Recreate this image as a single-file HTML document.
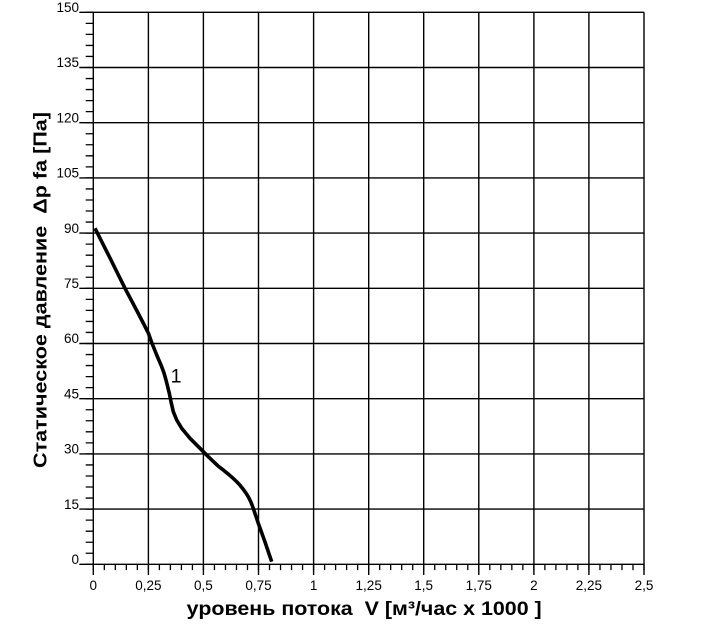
<!DOCTYPE html>
<html><head><meta charset="utf-8"><style>
html,body{margin:0;padding:0;background:#fff;width:704px;height:630px;overflow:hidden}
svg{display:block}
text{font-family:"Liberation Sans", Arial, sans-serif;}
</style></head><body>
<svg width="704" height="630" viewBox="0 0 704 630" xmlns="http://www.w3.org/2000/svg">
<rect width="704" height="630" fill="#fff"/>
<g stroke="#000" stroke-width="1.4" fill="none">
<path d="M79.3 564.3H644 M79.3 509.1H644 M79.3 453.9H644 M79.3 398.7H644 M79.3 343.5H644 M79.3 288.3H644 M79.3 233.1H644 M79.3 177.9H644 M79.3 122.7H644 M79.3 67.5H644 M79.3 12.3H644"/>
<path d="M93.3 12.3V575 M148.4 12.3V575 M203.4 12.3V575 M258.5 12.3V575 M313.6 12.3V575 M368.7 12.3V575 M423.7 12.3V575 M478.8 12.3V575 M533.9 12.3V575 M588.9 12.3V575 M644 12.3V575"/>
</g>
<line x1="92.65" y1="567.2" x2="645" y2="567.2" stroke="#000" stroke-width="5.8" stroke-dasharray="1.3 9.714"/>
<line x1="89.5" y1="11.65" x2="89.5" y2="565" stroke="#000" stroke-width="7.6" stroke-dasharray="1.3 9.74"/>
<g font-size="13.5" fill="#000" text-anchor="end">
<text x="79" y="564">0</text>
<text x="79" y="508.8">15</text>
<text x="79" y="453.6">30</text>
<text x="79" y="398.4">45</text>
<text x="79" y="343.2">60</text>
<text x="79" y="288">75</text>
<text x="79" y="232.8">90</text>
<text x="79" y="177.6">105</text>
<text x="79" y="122.4">120</text>
<text x="79" y="67.2">135</text>
<text x="79" y="12">150</text>
</g>
<g font-size="13.5" fill="#000" text-anchor="middle">
<text x="93.3" y="590">0</text>
<text x="148.4" y="590">0,25</text>
<text x="203.4" y="590">0,5</text>
<text x="258.5" y="590">0,75</text>
<text x="313.6" y="590">1</text>
<text x="368.7" y="590">1,25</text>
<text x="423.7" y="590">1,5</text>
<text x="478.8" y="590">1,75</text>
<text x="533.9" y="590">2</text>
<text x="588.9" y="590">2,25</text>
<text x="644" y="590">2,5</text>
</g>
<polyline fill="none" stroke="#000" stroke-width="3.6" stroke-linejoin="round" stroke-linecap="butt"
points="95,228.3 110,258 125,288.3 137,311 144,324.5 148.5,333.5 151.7,342.5 156.7,355 161.7,366.7 164,373 166,380 169.3,393.3 171,401.7 173.3,411.7 176.7,420 181.7,428.3 186,433.5 190,438.3 200,448.3 208.3,456.7 218.3,466.2 224,470.6 229,474.7 233,478.2 236.5,481.5 240,485.2 243,489 245.8,492.8 248.3,496.8 250.8,501.8 253,507.5 258.3,523.3 265,542 271.7,561.7"/>
<text x="176" y="382.5" font-size="19.5" text-anchor="middle">1</text>
<text x="186.7" y="615" font-size="19" font-weight="bold" textLength="355" lengthAdjust="spacingAndGlyphs" xml:space="preserve">уровень потока  V [м³/час x 1000 ]</text>
<text transform="translate(46.5,468) rotate(-90)" x="0" y="0" font-size="18" font-weight="bold" textLength="356" lengthAdjust="spacingAndGlyphs" xml:space="preserve">Статическое давление  Δp fa [Па]</text>
</svg>
</body></html>
